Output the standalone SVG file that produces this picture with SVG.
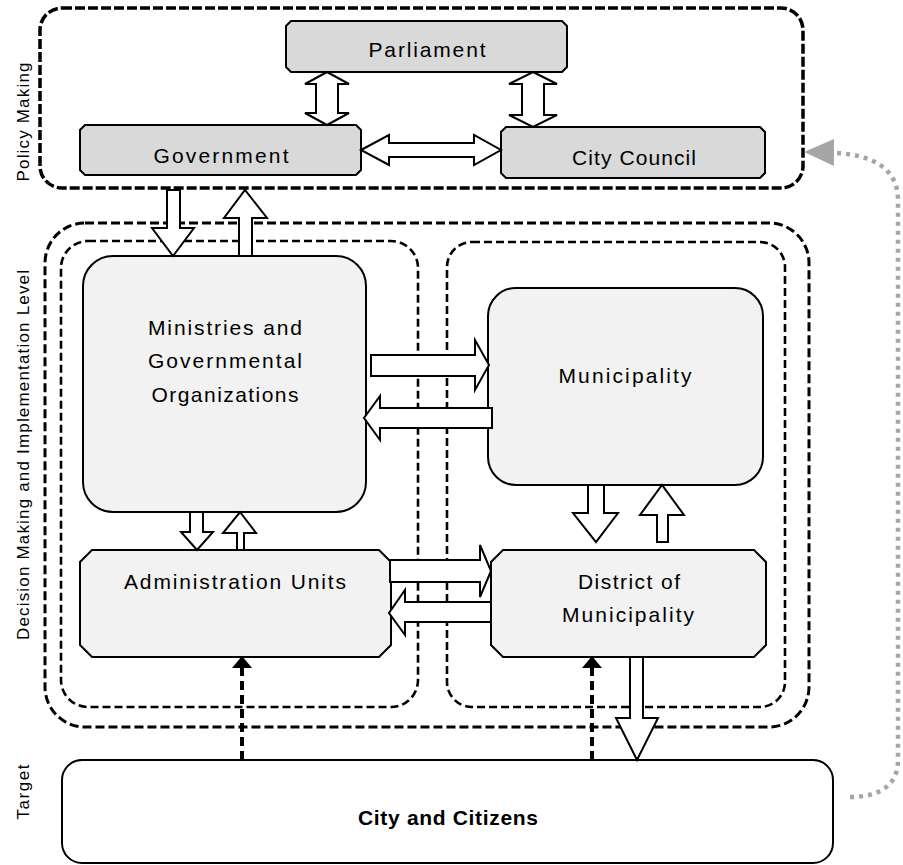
<svg xmlns="http://www.w3.org/2000/svg" width="903" height="865" viewBox="0 0 903 865">
<defs>
<style>
.cont{fill:none;stroke:#000;}
.pm{stroke-width:3.5;stroke-dasharray:10 3;}
.dm{stroke-width:3;stroke-dasharray:9 4;}
.in{stroke-width:2.6;stroke-dasharray:8 4;}
.box{stroke:#000;stroke-width:2;}
.dark{fill:#d9d9d9;}
.light{fill:#f2f2f2;}
.white{fill:#fff;}
.arr{fill:#fff;stroke:#000;stroke-width:2;stroke-linejoin:miter;}
.dash{fill:none;stroke:#000;stroke-width:4;stroke-dasharray:9 5;}
.t{font-family:"Liberation Sans",Arial,sans-serif;font-size:21px;fill:#000;text-anchor:middle;}
.b{font-weight:bold;}
.side{font-family:"Liberation Sans",Arial,sans-serif;font-size:17px;fill:#000;text-anchor:middle;}
</style>
</defs>

<g id="containers">
<rect id="policy-making" class="cont pm" x="40" y="8" width="763" height="180" rx="22"/>
<rect id="decision-level" class="cont dm" x="45" y="223" width="764" height="504" rx="40"/>
<rect id="gov-side" class="cont in" x="61" y="241" width="357" height="466" rx="27"/>
<rect id="mun-side" class="cont in" x="447" y="242" width="338" height="465" rx="25"/>
</g>

<g id="side-labels">
<text class="side" transform="translate(29,122) rotate(-90)" textLength="119" lengthAdjust="spacing">Policy Making</text>
<text class="side" transform="translate(29,455) rotate(-90)" textLength="370" lengthAdjust="spacing">Decision Making and Implementation Level</text>
<text class="side" transform="translate(29,792) rotate(-90)" textLength="55" lengthAdjust="spacing">Target</text>
</g>

<g id="parliament">
<path class="box dark" d="M291,21 H562 L567,26 V67 L562,72 H291 L286,67 V26 Z"/>
<text class="t" x="427" y="57" textLength="117" lengthAdjust="spacing">Parliament</text>
</g>
<g id="government">
<path class="box dark" d="M85,125 H356 L361,130 V170 L356,175 H85 L80,170 V130 Z"/>
<text class="t" x="221" y="163" textLength="135" lengthAdjust="spacing">Government</text>
</g>
<g id="city-council">
<path class="box dark" d="M506,127 H760 L765,132 V173 L760,178 H506 L501,173 V132 Z"/>
<text class="t" x="634" y="165" textLength="124" lengthAdjust="spacing">City Council</text>
</g>
<g id="ministries">
<rect class="box light" x="83" y="256" width="283" height="256" rx="30"/>
<text class="t" x="225" y="335" textLength="154" lengthAdjust="spacing">Ministries and</text>
<text class="t" x="225" y="368" textLength="154" lengthAdjust="spacing">Governmental</text>
<text class="t" x="225" y="402" textLength="147" lengthAdjust="spacing">Organizations</text>
</g>
<g id="municipality">
<rect class="box light" x="488" y="288" width="275" height="197" rx="28"/>
<text class="t" x="625" y="383" textLength="133" lengthAdjust="spacing">Municipality</text>
</g>
<g id="administration-units">
<path class="box light" d="M92,550 H379 L391,562 V645 L379,657 H92 L80,645 V562 Z"/>
<text class="t" x="235" y="589" textLength="222" lengthAdjust="spacing">Administration Units</text>
</g>
<g id="district">
<path class="box light" d="M503,550 H754 L766,562 V645 L754,657 H503 L491,645 V562 Z"/>
<text class="t" x="629" y="589" textLength="102" lengthAdjust="spacing">District of</text>
<text class="t" x="628" y="622" textLength="132" lengthAdjust="spacing">Municipality</text>
</g>
<g id="city-citizens">
<rect class="box white" x="62" y="760" width="771" height="103" rx="20"/>
<text class="t b" x="448" y="825" textLength="180" lengthAdjust="spacing">City and Citizens</text>
</g>

<g id="connectors">
<!-- Parliament <-> Government -->
<polygon class="arr" points="327,72 349,84 338,84 338,113 349,113 327,125 305,113 316,113 316,84 305,84"/>
<!-- Parliament <-> City Council -->
<polygon class="arr" points="533,72 557,84 544,84 544,115 557,115 533,127 509,115 522,115 522,84 509,84"/>
<!-- Government <-> City Council -->
<polygon class="arr" points="361,150 389,135 389,143 474,143 474,135 501,150 474,165 474,157 389,157 389,165"/>
<!-- Government -> Ministries -->
<polygon class="arr" points="167,190 180,190 180,228 194,228 173,256 152,228 167,228"/>
<!-- Ministries -> Government -->
<polygon class="arr" points="239,256 252,256 252,218 267,218 245,190 224,218 239,218"/>
<!-- Ministries -> Municipality -->
<polygon class="arr" points="371,355 475,355 475,340 489,365 475,390 475,376 371,376"/>
<!-- Municipality -> Ministries -->
<polygon class="arr" points="492,408 380,408 380,396 364,418 380,440 380,428 492,428"/>
<!-- Municipality -> District -->
<polygon class="arr" points="588,485 604,485 604,513 618,513 596,542 573,513 588,513"/>
<!-- District -> Municipality -->
<polygon class="arr" points="657,542 668,542 668,515 684,515 662,485 640,515 657,515"/>
<!-- Ministries -> Administration -->
<polygon class="arr" points="190,512 203,512 203,532 213,532 197,550 181,532 190,532"/>
<!-- Administration -> Ministries -->
<polygon class="arr" points="237,550 244,550 244,533 256,533 240,512 223,533 237,533"/>
<!-- Administration -> District -->
<polygon class="arr" points="390,560 480,560 480,545 491,571 480,597 480,582 390,582"/>
<!-- District -> Administration -->
<polygon class="arr" points="491,602 405,602 405,590 389,613 405,635 405,622 491,622"/>
<!-- District -> City -->
<polygon class="arr" points="630,657 643,657 643,718 658,718 637,760 616,718 630,718"/>
<!-- City -> Administration (dashed) -->
<line class="dash" x1="242" y1="760" x2="242" y2="668"/>
<polygon points="232,668 252,668 242,656" fill="#000"/>
<!-- City -> District (dashed) -->
<line class="dash" x1="592" y1="760" x2="592" y2="668"/>
<polygon points="582,668 602,668 592,656" fill="#000"/>
<!-- City -> Policy Making (grey dotted feedback) -->
<path d="M850,797 C880,797 898,785 898,760 L898,200 C898,168 872,155 836,153" fill="none" stroke="#a6a6a6" stroke-width="4.5" stroke-dasharray="4 5"/>
<polygon points="804,152 834,139 834,166" fill="#a6a6a6"/>
</g>
</svg>
